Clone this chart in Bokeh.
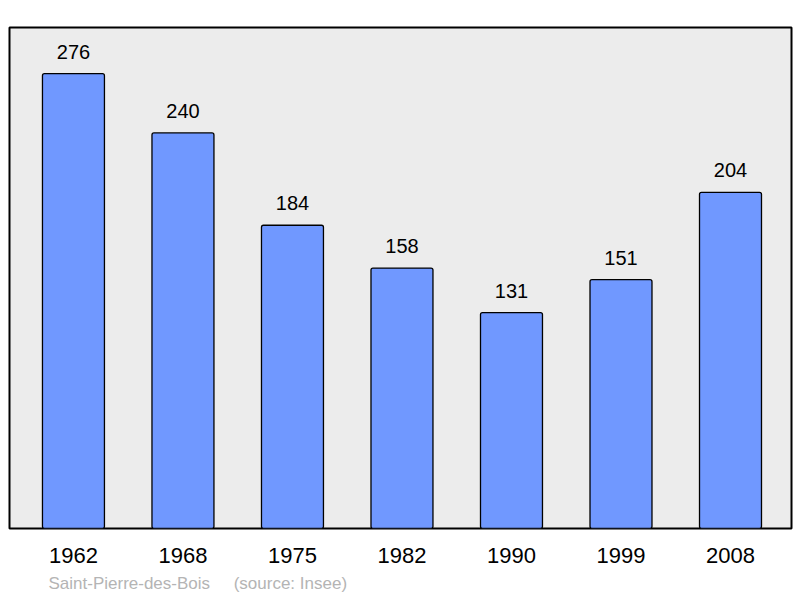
from bokeh.plotting import figure
from bokeh.models import Range1d, Title, FixedTicker, ColumnDataSource
from bokeh.core.properties import value
from bokeh.embed import file_html
from bokeh.resources import INLINE

years = ["1962", "1968", "1975", "1982", "1990", "1999", "2008"]
population = [276, 240, 184, 158, 131, 151, 204]
place = "Saint-Pierre-des-Bois"
source_note = "(source: Insee)"

xs = list(range(len(years)))
src = ColumnDataSource(dict(x=xs, top=population, lab=[str(v) for v in population]))

p = figure(width=800, height=598, output_backend="svg", toolbar_location=None,
           x_range=Range1d(-0.584, 6.557), y_range=Range1d(0, 304),
           min_border_left=9, min_border_right=9, min_border_top=27, min_border_bottom=70)
p.background_fill_color = "#ececec"
p.border_fill_color = "white"
p.outline_line_color = "black"
p.outline_line_width = 2
p.xgrid.visible = False
p.ygrid.visible = False
p.yaxis.visible = False

p.vbar(x="x", top="top", width=0.566, bottom=0, source=src,
       fill_color="#7098ff", line_color="black", line_width=1.3, border_radius=2)
p.text(x="x", y="top", text="lab", source=src, text_align="center",
       text_baseline="alphabetic", y_offset=-22, text_font=value("Liberation Sans"),
       text_font_size="20px", text_color="black")

ax = p.xaxis[0]
ax.ticker = FixedTicker(ticks=xs)
ax.major_label_overrides = {i: y for i, y in zip(xs, years)}
ax.axis_line_color = None
ax.major_tick_line_color = None
ax.minor_tick_line_color = None
ax.major_tick_out = 0
ax.major_label_standoff = 19
ax.major_label_text_font = "Liberation Sans"
ax.major_label_text_font_size = "22px"
ax.major_label_text_color = "black"

caption = place + "\u00a0" * 5 + source_note
p.add_layout(Title(text=caption, align="left", offset=39, standoff=12,
                   text_font="Liberation Sans", text_font_size="17px",
                   text_font_style="normal", text_color="#b4b4b4"), "below")

open("out.html", "w").write(file_html(p, INLINE))
